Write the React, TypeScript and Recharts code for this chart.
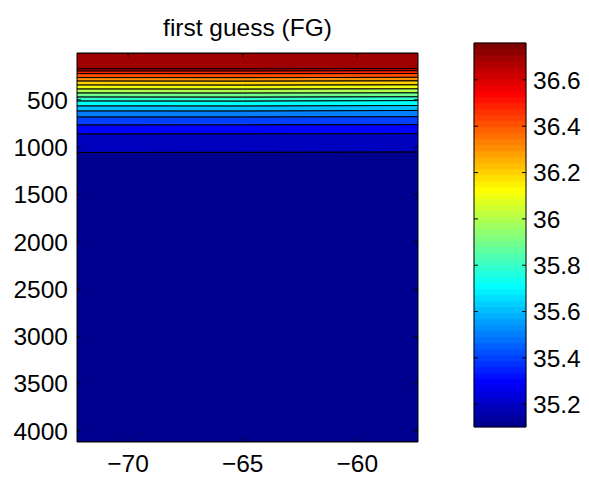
import React from 'react';
import { ComposedChart, Area, XAxis, YAxis, ReferenceArea, ReferenceLine } from 'recharts';

// ---- data ----
const lonPoints = [-72.23, -65, -57.35];
const contourLevels = [36.7, 36.6, 36.5, 36.4, 36.3, 36.2, 36.1, 36.0, 35.9, 35.8, 35.7, 35.6, 35.5, 35.4, 35.3, 35.2];
const depthWest = [173, 196, 223, 265, 302, 344, 386, 428, 471, 513, 565, 618, 682, 766, 861, 1056];
const depthMid = [173, 196, 224, 266, 303, 345, 387, 429, 472, 514, 566, 619, 682, 765, 860, 1055];
const depthEast = [170, 192, 222, 262, 300, 342, 384, 426, 468, 508, 560, 612, 678, 762, 858, 1052];
const xTicks = [-70, -65, -60];
const yTicks = [500, 1000, 1500, 2000, 2500, 3000, 3500, 4000];
const cbTicks = [35.2, 35.4, 35.6, 35.8, 36, 36.2, 36.4, 36.6];
const lonRange: [number, number] = [-72.23, -57.35];
const depthRange: [number, number] = [5, 4115];
const salinityRange: [number, number] = [35.102, 36.759];
const titleText = 'first guess (FG)';

// ---- jet colormap (MATLAB style) ----
function jet(m: number): string[] {
  const n = Math.ceil(m / 4);
  const u: number[] = [];
  for (let i = 1; i <= n; i++) u.push(i / n);
  for (let i = 1; i < n; i++) u.push(1);
  for (let i = n; i >= 1; i--) u.push(i / n);
  const gOff = Math.ceil(n / 2) - (m % 4 === 1 ? 1 : 0);
  const r = new Array(m).fill(0), g = new Array(m).fill(0), b = new Array(m).fill(0);
  u.forEach((val, k) => {
    const gi = gOff + k + 1;
    const ri = gi + n;
    const bi = gi - n;
    if (gi >= 1 && gi <= m) g[gi - 1] = val;
    if (ri >= 1 && ri <= m) r[ri - 1] = val;
    if (bi >= 1 && bi <= m) b[bi - 1] = val;
  });
  const h = (v: number) => Math.round(v * 255).toString(16).padStart(2, '0');
  return r.map((_, i) => '#' + h(r[i]) + h(g[i]) + h(b[i]));
}
const CMAP = jet(64);
const colorFor = (v: number) => {
  const [lo, hi] = salinityRange;
  let idx = Math.floor(((v - lo) / (hi - lo)) * 64);
  idx = Math.max(0, Math.min(63, idx));
  return CMAP[idx];
};

// ---- build table ----
const depthCols = [depthWest, depthMid, depthEast];
const nBands = contourLevels.length + 1;
const tableData = lonPoints.map((lon, pi) => {
  const row: any = { lon };
  const d = depthCols[pi];
  for (let k = 0; k < nBands; k++) {
    const top = k === 0 ? depthRange[0] : d[k - 1];
    const bot = k === nBands - 1 ? depthRange[1] : d[k];
    row['b' + k] = [top, bot];
  }
  return row;
});
const bandColors = Array.from({ length: nBands }, (_, k) =>
  colorFor(k === nBands - 1 ? salinityRange[0] : contourLevels[k])
);

const font = 'Liberation Sans, Arial, Helvetica, sans-serif';
const FS = 24.5;
const tickStyle = { fontSize: FS, fill: '#000', fontFamily: font };
const fmtMinus = (v: number) => String(v).replace('-', '\u2212');

// plot geometry (pixels)
const W = 589, H = 477;
const plotL = 77, plotR = 418, plotT = 53, plotB = 442;
const cbL = 474, cbR = 526, cbT = 43, cbB = 427;
const tickPx = 4;

export default function App() {
  const lonPerPx = (lonRange[1] - lonRange[0]) / (plotR - plotL);
  const depPerPx = (depthRange[1] - depthRange[0]) / (plotB - plotT);
  const cbPerPx = 1 / (cbR - cbL);
  const cbStep = (salinityRange[1] - salinityRange[0]) / 64;
  const yAxisW = 70;
  const xAxisH = 34;
  return (
    <div style={{ position: 'absolute', left: 0, top: 0, width: W, height: H, background: '#fff' }}>
      <div
        style={{
          position: 'absolute', left: plotL - 20, width: plotR - plotL + 40, top: 14, textAlign: 'center',
          fontFamily: font, fontSize: FS, color: '#000', lineHeight: '28px', whiteSpace: 'nowrap',
        }}
      >
        {titleText}
      </div>
      <div style={{ position: 'absolute', left: 0, top: 0 }}>
        <ComposedChart
          width={W}
          height={H}
          data={tableData}
          margin={{ top: plotT, left: plotL - yAxisW, right: W - plotR, bottom: H - plotB - xAxisH }}
        >
          <XAxis
            dataKey="lon"
            type="number"
            domain={lonRange}
            ticks={xTicks}
            allowDataOverflow
            tickLine={false}
            axisLine={false}
            tickSize={0}
            tickMargin={13}
            height={xAxisH}
            tick={tickStyle}
            tickFormatter={fmtMinus}
          />
          <YAxis
            type="number"
            domain={depthRange}
            ticks={yTicks}
            reversed
            allowDataOverflow
            tickLine={false}
            axisLine={false}
            tickSize={0}
            tickMargin={9}
            width={yAxisW}
            tick={tickStyle}
          />
          {bandColors.map((c, k) => (
            <Area
              key={k}
              type="linear"
              dataKey={'b' + k}
              fill={c}
              fillOpacity={1}
              stroke="#000"
              strokeWidth={1}
              dot={false}
              activeDot={false}
              isAnimationActive={false}
            />
          ))}
          {xTicks.map((t) => (
            <ReferenceLine
              key={'xb' + t}
              ifOverflow="visible"
              segment={[{ x: t, y: depthRange[1] }, { x: t, y: depthRange[1] - tickPx * depPerPx }]}
              stroke="#000"
            />
          ))}
          {xTicks.map((t) => (
            <ReferenceLine
              key={'xt' + t}
              ifOverflow="visible"
              segment={[{ x: t, y: depthRange[0] }, { x: t, y: depthRange[0] + tickPx * depPerPx }]}
              stroke="#000"
            />
          ))}
          {yTicks.map((t) => (
            <ReferenceLine
              key={'yl' + t}
              ifOverflow="visible"
              segment={[{ x: lonRange[0], y: t }, { x: lonRange[0] + tickPx * lonPerPx, y: t }]}
              stroke="#000"
            />
          ))}
          {yTicks.map((t) => (
            <ReferenceLine
              key={'yr' + t}
              ifOverflow="visible"
              segment={[{ x: lonRange[1], y: t }, { x: lonRange[1] - tickPx * lonPerPx, y: t }]}
              stroke="#000"
            />
          ))}
          <ReferenceArea
            x1={lonRange[0]}
            x2={lonRange[1]}
            y1={depthRange[0]}
            y2={depthRange[1]}
            ifOverflow="visible"
            fill="none"
            stroke="#000"
            strokeWidth={1}
          />
        </ComposedChart>
      </div>
      <div style={{ position: 'absolute', left: 0, top: 0 }}>
        <ComposedChart
          width={W}
          height={H}
          data={[{ x: 0 }, { x: 1 }]}
          margin={{ top: cbT, left: cbL, right: W - cbR - yAxisW, bottom: H - cbB }}
        >
          <XAxis dataKey="x" type="number" domain={[0, 1]} hide />
          <YAxis
            type="number"
            orientation="right"
            domain={salinityRange}
            ticks={cbTicks}
            allowDataOverflow
            tickLine={false}
            axisLine={false}
            tickSize={0}
            tickMargin={7}
            width={yAxisW}
            tick={tickStyle}
          />
          {CMAP.map((c, i) => (
            <ReferenceArea
              key={'cb' + i}
              x1={0}
              x2={1}
              y1={salinityRange[0] + i * cbStep}
              y2={salinityRange[0] + (i + 1) * cbStep}
              ifOverflow="visible"
              fill={c}
              fillOpacity={1}
              stroke={c}
              strokeWidth={0.5}
            />
          ))}
          {cbTicks.map((t) => (
            <ReferenceLine
              key={'cl' + t}
              ifOverflow="visible"
              segment={[{ x: 0, y: t }, { x: tickPx * cbPerPx, y: t }]}
              stroke="#000"
            />
          ))}
          {cbTicks.map((t) => (
            <ReferenceLine
              key={'cr' + t}
              ifOverflow="visible"
              segment={[{ x: 1, y: t }, { x: 1 - tickPx * cbPerPx, y: t }]}
              stroke="#000"
            />
          ))}
          <ReferenceArea
            x1={0}
            x2={1}
            y1={salinityRange[0]}
            y2={salinityRange[1]}
            ifOverflow="visible"
            fill="none"
            stroke="#000"
            strokeWidth={1}
          />
        </ComposedChart>
      </div>
    </div>
  );
}
